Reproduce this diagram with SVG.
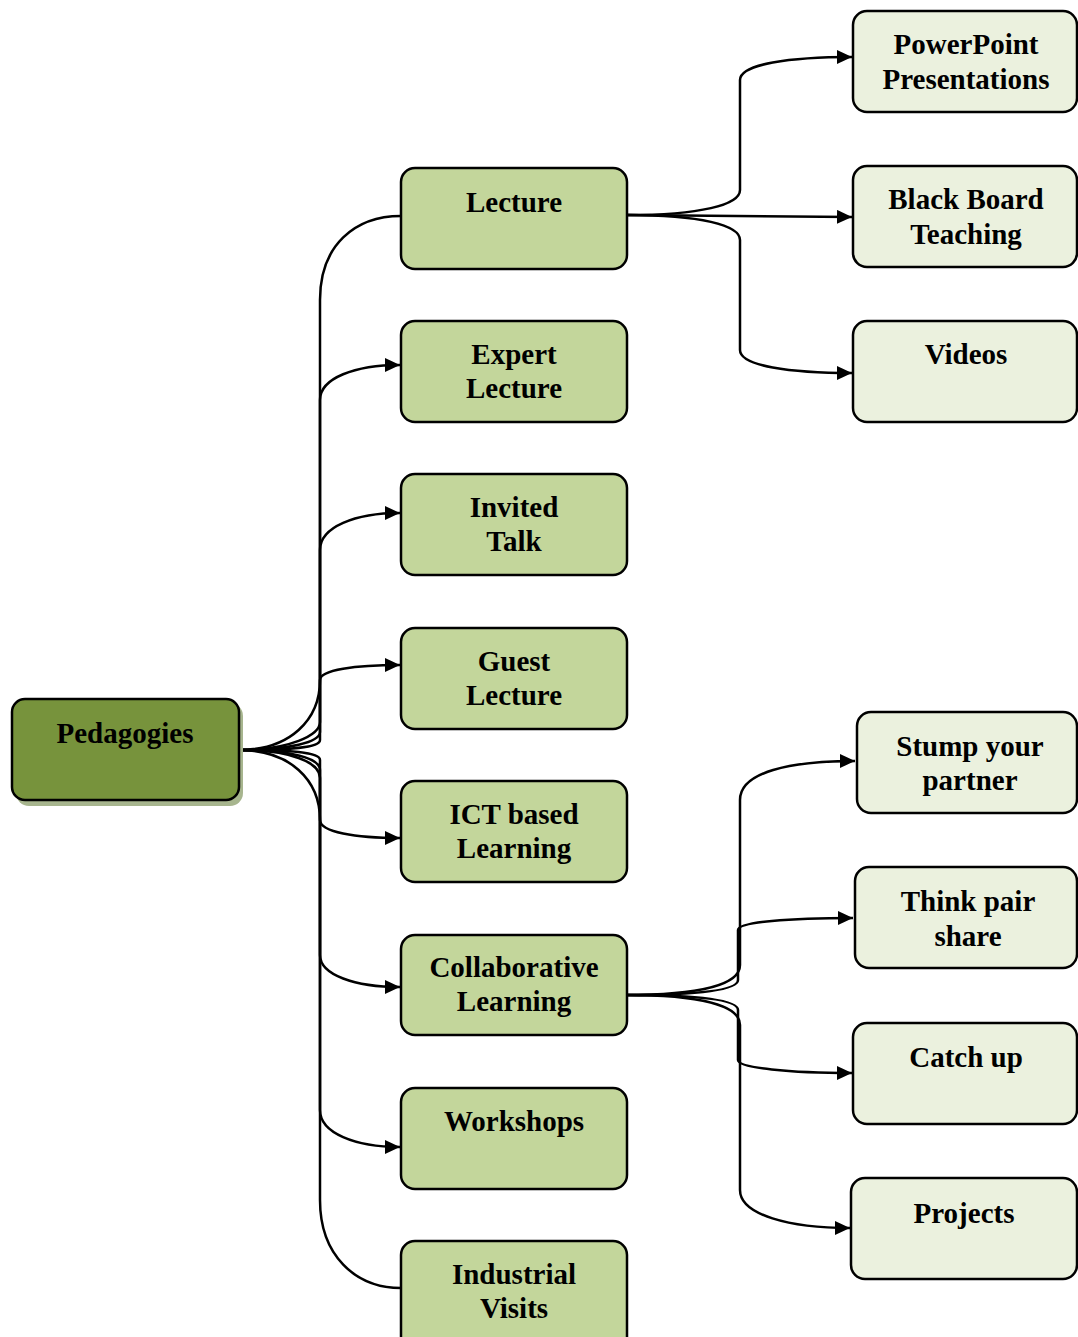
<svg xmlns="http://www.w3.org/2000/svg" width="1078" height="1337" viewBox="0 0 1078 1337">
<style>
.root{fill:#77933c;stroke:#000;stroke-width:2.5}
.shadow{fill:#a7b58e;stroke:none}
.l1{fill:#c3d69b;stroke:#000;stroke-width:2.5}
.l2{fill:#ebf1de;stroke:#000;stroke-width:2.5}
text{font-family:"Liberation Serif","Times New Roman",serif;font-weight:bold;font-size:29px;fill:#000;text-anchor:middle}
.c{fill:none;stroke:#000;stroke-width:2.5}
</style>
<defs>
<marker id="ah" markerWidth="15" markerHeight="14" refX="15" refY="7" orient="auto" markerUnits="userSpaceOnUse">
<path d="M0,0 L15,7 L0,14 Z" fill="#000"/>
</marker>
</defs>
<g id="connectors">
<path class="c" d="M239,750 C290,750 320,748 320,740 V300 C320,245 355,216 401,216"/>
<path class="c" marker-end="url(#ah)" d="M239,750 C290,750 320,742 320,732 V400 C320,378 355,365 400,365"/>
<path class="c" marker-end="url(#ah)" d="M239,750 C290,750 320,735 320,722 V550 C320,527 355,513 400,513"/>
<path class="c" marker-end="url(#ah)" d="M239,750 C290,750 320,720 320,680 C320,670 355,665 400,665"/>
<path class="c" marker-end="url(#ah)" d="M239,750 C290,750 320,780 320,820 C320,832 355,838 400,838"/>
<path class="c" marker-end="url(#ah)" d="M239,750 C290,750 320,758 320,770 V955 C320,975 355,987 400,987"/>
<path class="c" marker-end="url(#ah)" d="M239,750 C290,750 320,762 320,778 V1110 C320,1133 355,1147 400,1147"/>
<path class="c" d="M239,750 C290,750 320,752 320,760 V1200 C320,1255 355,1288 401,1288"/>
<path class="c" marker-end="url(#ah)" d="M627,215 C700,215 740,205 740,190 V80 C740,64 790,57 852,57"/>
<path class="c" marker-end="url(#ah)" d="M627,215 L852,217"/>
<path class="c" marker-end="url(#ah)" d="M627,215 C700,215 740,225 740,240 V350 C740,366 790,373 852,373"/>
<path class="c" marker-end="url(#ah)" d="M625,995 C700,995 740,985 740,965 V800 C740,772 790,761 855,761"/>
<path class="c" marker-end="url(#ah)" d="M625,995 C700,995 738,990 738,980 V930 C738,922 790,918 853,918"/>
<path class="c" marker-end="url(#ah)" d="M625,995 C700,995 738,1000 738,1010 V1060 C738,1068 790,1073 852,1073"/>
<path class="c" marker-end="url(#ah)" d="M625,995 C700,995 740,1005 740,1025 V1190 C740,1215 790,1228 850,1228"/>
</g>
<g id="n-pedagogies">
<rect class="shadow" x="16" y="703" width="227" height="103" rx="13"/>
<rect class="root" x="12" y="699" width="227" height="101" rx="13"/>
<text x="125" y="743">Pedagogies</text>
</g>
<g id="n-lecture"><rect class="l1" x="401" y="168" width="226" height="101" rx="14"/><text x="514" y="212">Lecture</text></g>
<g id="n-expert"><rect class="l1" x="401" y="321" width="226" height="101" rx="14"/><text x="514" y="364">Expert</text><text x="514" y="398">Lecture</text></g>
<g id="n-invited"><rect class="l1" x="401" y="474" width="226" height="101" rx="14"/><text x="514" y="517">Invited</text><text x="514" y="551">Talk</text></g>
<g id="n-guest"><rect class="l1" x="401" y="628" width="226" height="101" rx="14"/><text x="514" y="671">Guest</text><text x="514" y="705">Lecture</text></g>
<g id="n-ict"><rect class="l1" x="401" y="781" width="226" height="101" rx="14"/><text x="514" y="824">ICT based</text><text x="514" y="858">Learning</text></g>
<g id="n-collab"><rect class="l1" x="401" y="935" width="226" height="100" rx="14"/><text x="514" y="977">Collaborative</text><text x="514" y="1011">Learning</text></g>
<g id="n-workshops"><rect class="l1" x="401" y="1088" width="226" height="101" rx="14"/><text x="514" y="1131">Workshops</text></g>
<g id="n-industrial"><rect class="l1" x="401" y="1241" width="226" height="110" rx="14"/><text x="514" y="1284">Industrial</text><text x="514" y="1318">Visits</text></g>
<g id="n-ppt"><rect class="l2" x="853" y="11" width="224" height="101" rx="14"/><text x="966" y="54">PowerPoint</text><text x="966" y="89">Presentations</text></g>
<g id="n-blackboard"><rect class="l2" x="853" y="166" width="224" height="101" rx="14"/><text x="966" y="209">Black Board</text><text x="966" y="244">Teaching</text></g>
<g id="n-videos"><rect class="l2" x="853" y="321" width="224" height="101" rx="14"/><text x="966" y="364">Videos</text></g>
<g id="n-stump"><rect class="l2" x="857" y="712" width="220" height="101" rx="14"/><text x="970" y="756">Stump your</text><text x="970" y="790">partner</text></g>
<g id="n-think"><rect class="l2" x="855" y="867" width="222" height="101" rx="14"/><text x="968" y="911">Think pair</text><text x="968" y="946">share</text></g>
<g id="n-catchup"><rect class="l2" x="853" y="1023" width="224" height="101" rx="14"/><text x="966" y="1067">Catch up</text></g>
<g id="n-projects"><rect class="l2" x="851" y="1178" width="226" height="101" rx="14"/><text x="964" y="1223">Projects</text></g>
</svg>
